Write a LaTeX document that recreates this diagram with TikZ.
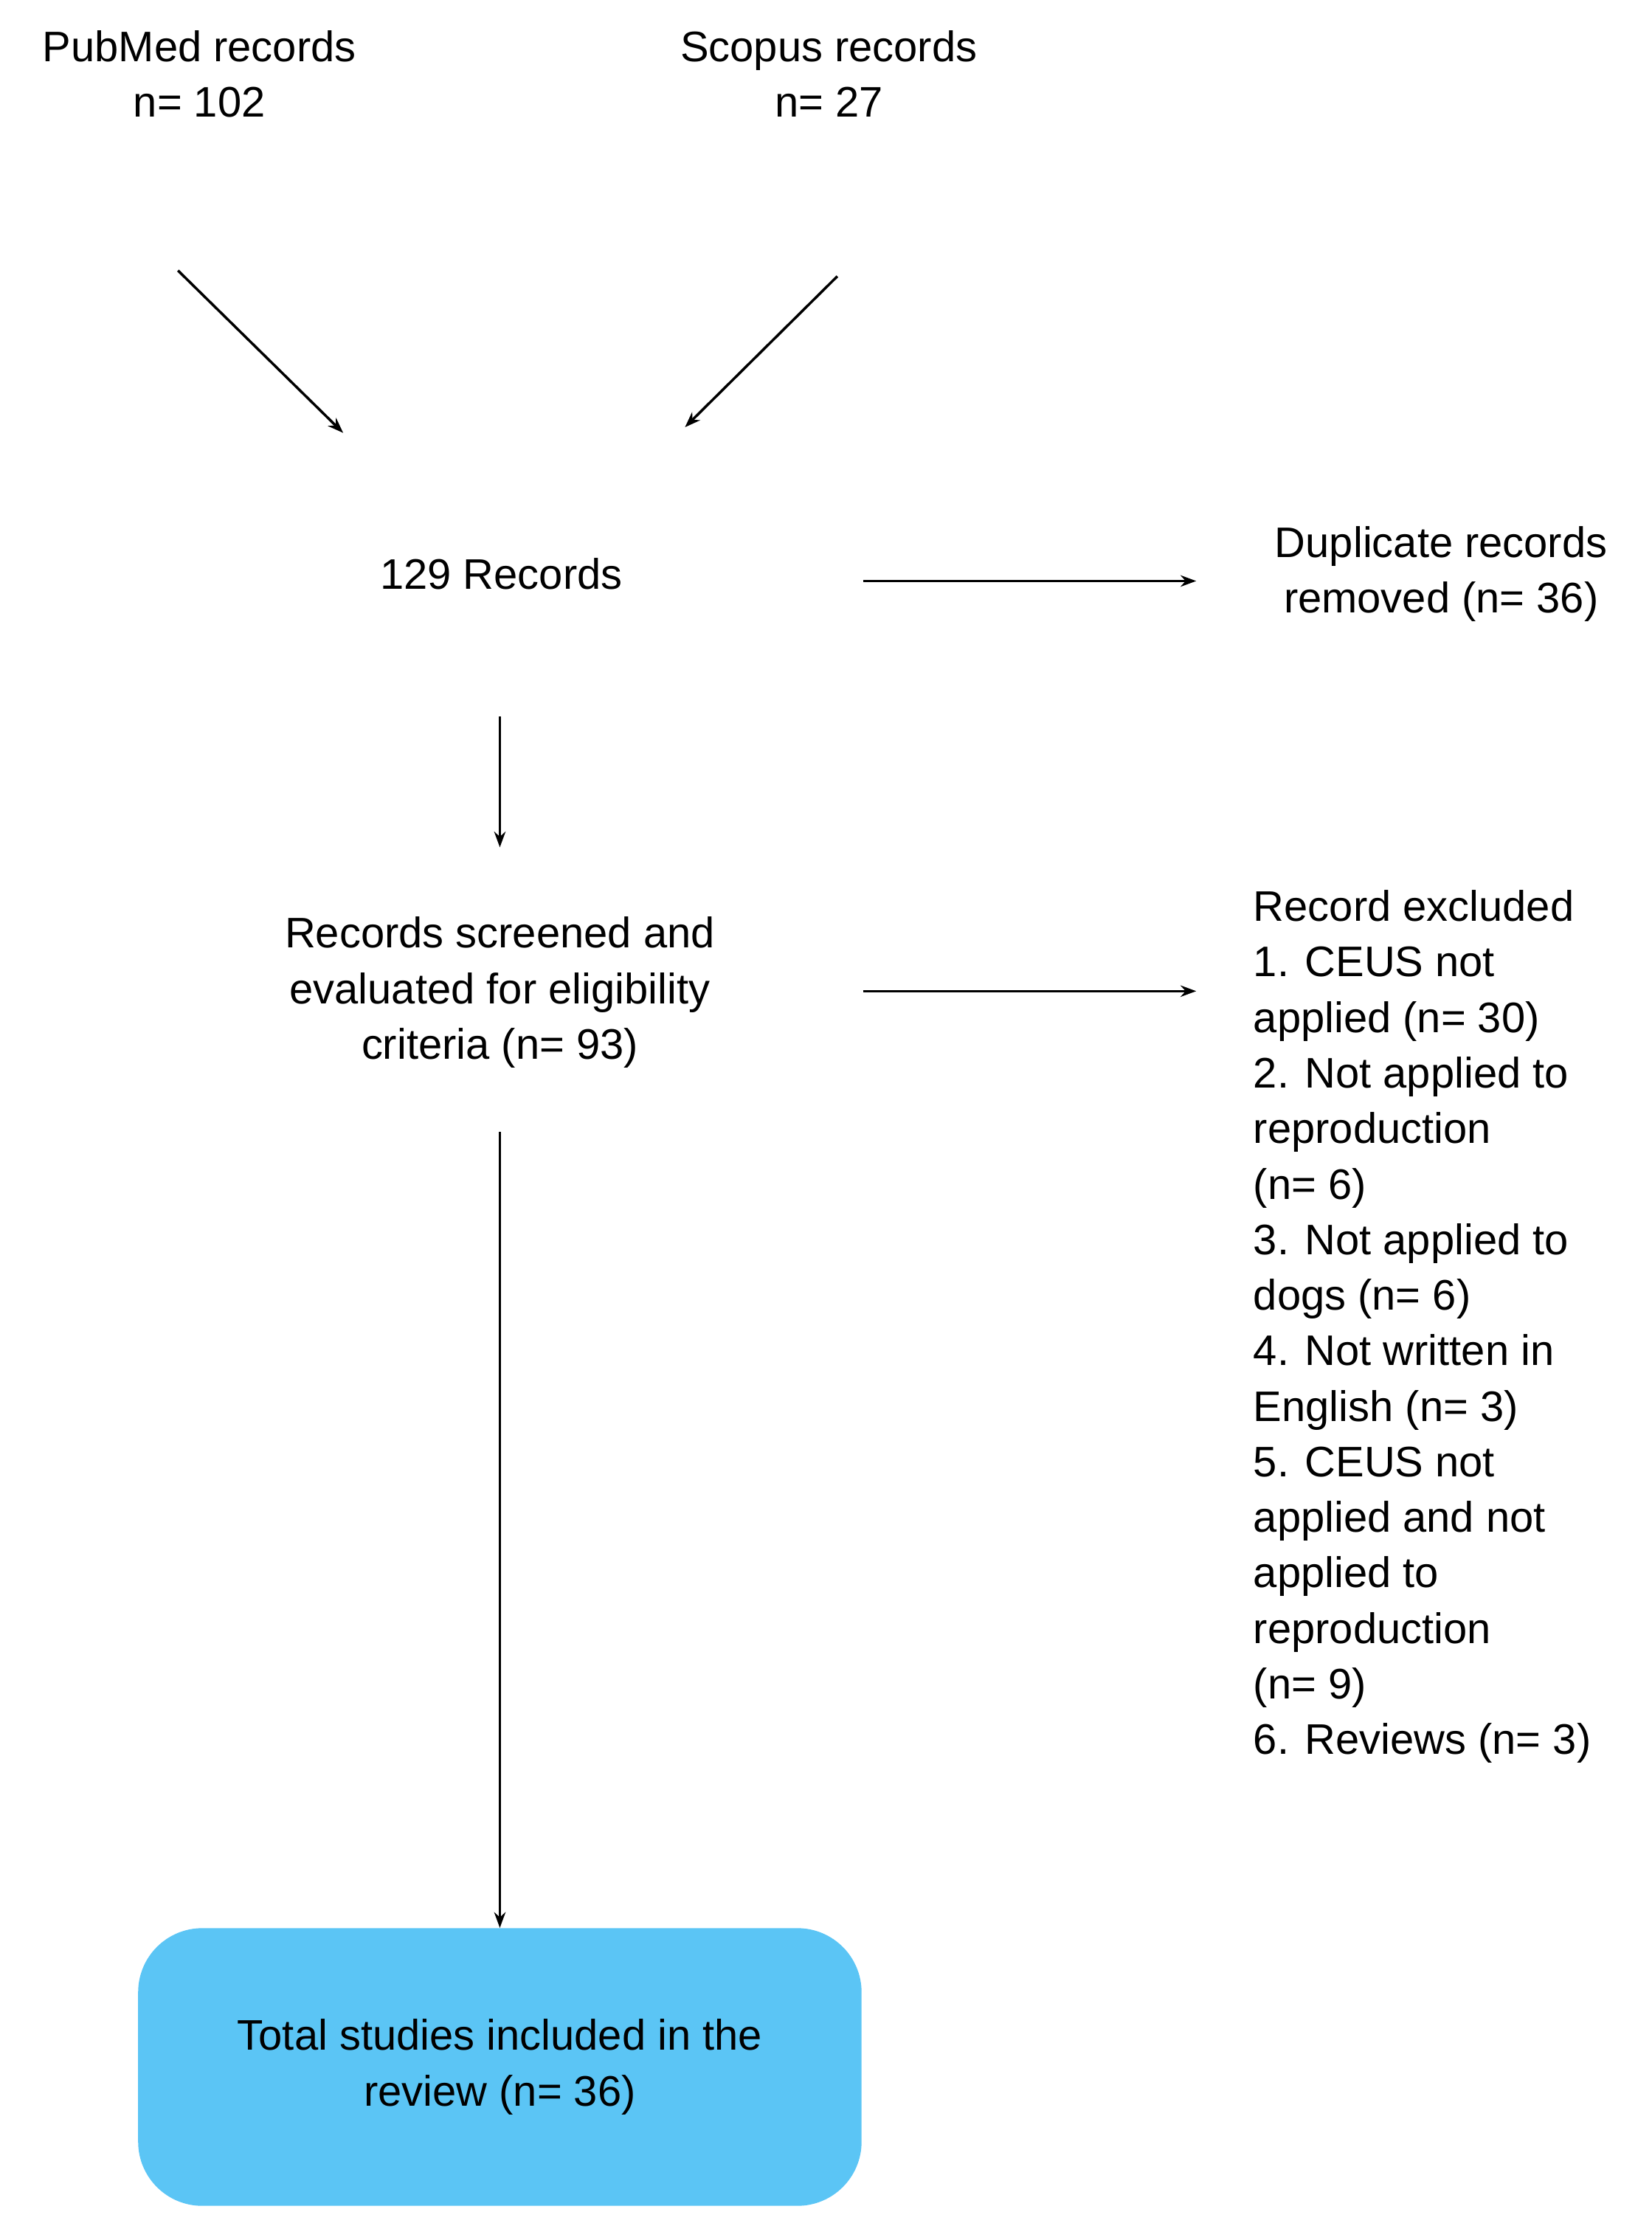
\documentclass[tikz,border=0pt]{standalone}
\usepackage{fontspec}
\setmainfont{Liberation Sans}
\usetikzlibrary{arrows.meta}
\definecolor{boxblue}{HTML}{5BC5F5}
\begin{document}
\begin{tikzpicture}[x=1pt,y=-1pt,
  txt/.style={align=center,font=\fontsize{30}{39}\selectfont,inner sep=0pt},
  arr/.style={line width=1.8pt,-{Stealth[length=11pt,width=8pt]}}]
\useasboundingbox (0,0) rectangle (1160,1573);
\node[txt] (pub) at (140,52) {PubMed records\\n= 102};
\node[txt] (sco) at (582,52) {Scopus records\\n= 27};
\node[txt] (rec) at (352,403) {129 Records};
\node[txt] (dup) at (1012,403) {Duplicate records\\removed (n= 36)};
\node[txt] (scr) at (351,697) {Records screened and\\evaluated for eligibility\\criteria (n= 93)};
\node[txt,align=left,anchor=north west] (exc) at (880,625) {Record excluded\\1. CEUS not\\applied (n= 30)\\2. Not applied to\\reproduction\\(n= 6)\\3. Not applied to\\dogs (n= 6)\\4. Not written in\\English (n= 3)\\5. CEUS not\\applied and not\\applied to\\reproduction\\(n= 9)\\6. Reviews (n= 3)};
\node[txt,fill=boxblue,rounded corners=45pt,minimum width=508pt,minimum height=195pt] (tot) at (351,1451.5) {Total studies included in the\\review (n= 36)};
\coordinate (a1s) at (125,190); \coordinate (a1e) at (241,304);
\coordinate (a2s) at (588,194); \coordinate (a2e) at (481,300);
\coordinate (a3s) at (606,408); \coordinate (a3e) at (840,408);
\coordinate (a4s) at (351,503); \coordinate (a4e) at (351,595);
\coordinate (a5s) at (606,696); \coordinate (a5e) at (840,696);
\coordinate (a6s) at (351,795);
\draw[arr] (a1s) -- (a1e);
\draw[arr] (a2s) -- (a2e);
\draw[arr] (a3s) -- (a3e);
\draw[arr] (a4s) -- (a4e);
\draw[arr] (a5s) -- (a5e);
\draw[arr] (a6s) -- (tot.north);
\end{tikzpicture}
\end{document}
